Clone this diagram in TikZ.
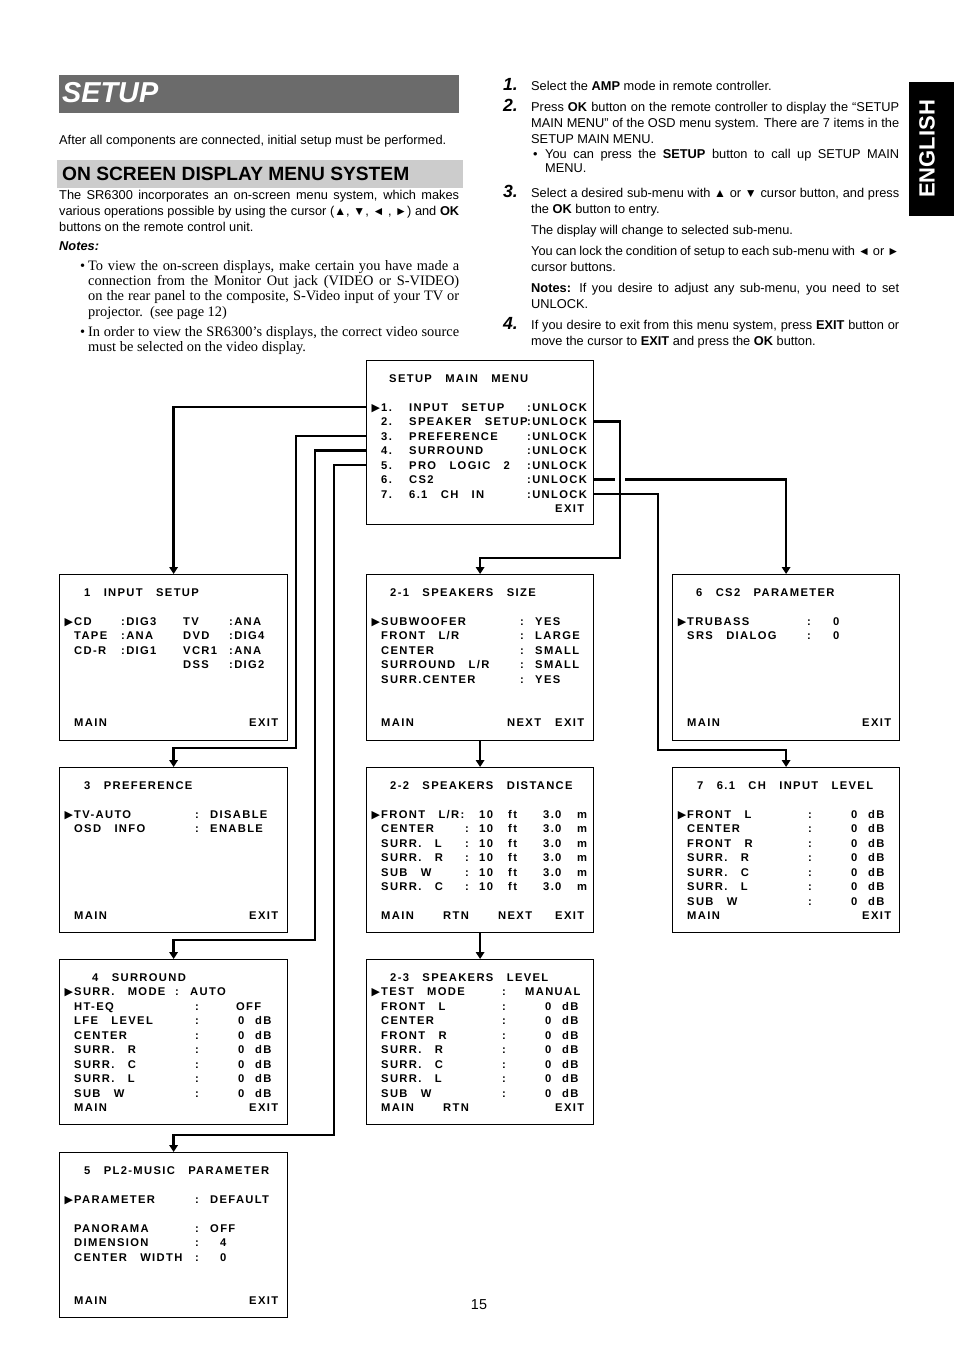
\documentclass[tikz,border=0pt]{standalone}
\usepackage{fontspec}
\setmainfont{Liberation Sans}
\newfontfamily\serif{Liberation Serif}
\newfontfamily\osdfont{Liberation Sans}[LetterSpace=12,WordSpace=3.0]
\newfontfamily\symf{DejaVu Sans}
\usetikzlibrary{arrows.meta}
\definecolor{titlegray}{gray}{0.42}
\definecolor{headgray}{gray}{0.8}
\newcommand\tb[2]{\leavevmode\rlap{\hspace*{#1pt}#2}}
\newcommand\sel{\leavevmode\llap{\symf\fontsize{11}{11}\selectfont ▶\hspace{1pt}}}
\newcommand\numlab[1]{\leavevmode\llap{\makebox[28pt][l]{\fontsize{17.6}{17.6}\selectfont\bfseries\itshape #1}}}
\newcommand\tri[1]{{\fontsize{12}{12}\selectfont #1}}
\tikzset{
  osdbox/.style={draw, line width=1.2pt, anchor=north west, inner sep=0pt, minimum width=228pt, minimum height=166pt},
  osdtxt/.style={anchor=base west, inner sep=0pt, font=\osdfont\bfseries\fontsize{11.2}{14.5}\selectfont},
  link/.style={line width=2.6pt, -{Triangle[length=7pt,width=8.5pt]}},
  bodytxt/.style={anchor=base west, inner sep=0pt, font=\fontsize{12.8}{16}\selectfont}
}
\begin{document}
\begin{tikzpicture}[x=1pt, y=-1pt]
\useasboundingbox (0,0) rectangle (954,1351);
% page heading
\fill[titlegray] (59,75) rectangle (459,113);
\node[anchor=base west, inner sep=0pt, text=white, font=\fontsize{28.8}{28.8}\selectfont\bfseries\itshape] (title) at (62,103) {SETUP};
\fill (909,82) rectangle (954,216);
\node[rotate=90, inner sep=0pt, text=white, font=\fontsize{22}{22}\selectfont\bfseries] (lang) at (927,149) {ENGLISH};
\node[bodytxt] (intro) at (59,145) {After all components are connected, initial setup must be performed.};
\fill[headgray] (57,160) rectangle (463,188);
\node[anchor=base west, inner sep=0pt, font=\fontsize{19.2}{19.2}\selectfont\bfseries] (osdhead) at (62,181) {ON SCREEN DISPLAY MENU SYSTEM};
\node[bodytxt] (lead) at (59,200) {\parbox[t]{400pt}{The SR6300 incorporates an on-screen menu system, which makes\linebreak various operations possible by using the cursor (\tri{▲}, \tri{▼}, \tri{◄} , \tri{►}) and \textbf{OK}\linebreak buttons on the remote control unit.}};
\node[bodytxt, font=\fontsize{12.8}{16}\selectfont\bfseries\itshape] (notes) at (59,250) {Notes:};
\node[anchor=base west, inner sep=0pt, font=\serif\fontsize{14.4}{15.4}\selectfont] (notelist) at (80,270) {\parbox[t]{379pt}{%
\hangindent=8pt\hangafter=1\makebox[8pt][l]{•}To view the on-screen displays, make certain you have made a\linebreak connection from the Monitor Out jack (VIDEO or S-VIDEO)\linebreak on the rear panel to the composite, S-Video input of your TV or\linebreak projector.\ \ (see page 12)\par
\vspace{4.6pt}\hangindent=8pt\hangafter=1\makebox[8pt][l]{•}In order to view the SR6300’s displays, the correct video source\linebreak must be selected on the video display.}};
% steps
\node[bodytxt] (steps) at (531,91) {\parbox[t]{368pt}{\setlength\parskip{5pt}%
\numlab{1.}Select the \textbf{AMP} mode in remote controller.\par
\numlab{2.}Press \textbf{OK} button on the remote controller to display the “SETUP\linebreak MAIN MENU” of the OSD menu system. There are 7 items in the\linebreak SETUP MAIN MENU.\par
\vspace{-4pt}{\baselineskip=14pt\hangindent=14pt\hangafter=1\makebox[14pt][l]{\hspace{2pt}•}You can press the \textbf{SETUP} button to call up SETUP MAIN\linebreak MENU.\par}
\vspace{4pt}\numlab{3.}Select a desired sub-menu with \tri{▲} or \tri{▼}\ cursor button, and press\linebreak the \textbf{OK} button to entry.\par
The display will change to selected sub-menu.\par
You can lock the condition of setup to each sub-menu with \tri{◄} or \tri{►}\linebreak cursor buttons.\par
\textbf{Notes:} If you desire to adjust any sub-menu, you need to set\linebreak UNLOCK.\par
\numlab{4.}If you desire to exit from this menu system, press \textbf{EXIT} button or\linebreak move the cursor to \textbf{EXIT} and press the \textbf{OK} button.}};
% osd screens
\node[osdbox, minimum width=227pt, minimum height=164pt] (main) at (366,360) {};
\node[osdtxt] (main-t) at (381,382) {\parbox[t]{210pt}{%
\tb{8}{SETUP MAIN MENU}\\
\mbox{}\\
\sel\tb{0}{1.}\tb{28}{INPUT SETUP}\tb{146}{:UNLOCK}\\
\tb{0}{2.}\tb{28}{SPEAKER SETUP}\tb{146}{:UNLOCK}\\
\tb{0}{3.}\tb{28}{PREFERENCE}\tb{146}{:UNLOCK}\\
\tb{0}{4.}\tb{28}{SURROUND}\tb{146}{:UNLOCK}\\
\tb{0}{5.}\tb{28}{PRO LOGIC 2}\tb{146}{:UNLOCK}\\
\tb{0}{6.}\tb{28}{CS2}\tb{146}{:UNLOCK}\\
\tb{0}{7.}\tb{28}{6.1 CH IN}\tb{146}{:UNLOCK}\\
\tb{174}{EXIT}}};
\node[osdbox] (inp) at (59,574) {};
\node[osdtxt] (inp-t) at (74,596) {\parbox[t]{210pt}{%
\tb{10}{1 INPUT SETUP}\\
\mbox{}\\
\sel\tb{0}{CD}\tb{47}{:DIG3}\tb{109}{TV}\tb{155}{:ANA}\\
\tb{0}{TAPE}\tb{47}{:ANA}\tb{109}{DVD}\tb{155}{:DIG4}\\
\tb{0}{CD-R}\tb{47}{:DIG1}\tb{109}{VCR1}\tb{155}{:ANA}\\
\tb{109}{DSS}\tb{155}{:DIG2}\\
\mbox{}\\ \mbox{}\\ \mbox{}\\
\tb{0}{MAIN}\tb{175}{EXIT}}};
\node[osdbox, minimum width=227pt] (spsize) at (366,574) {};
\node[osdtxt] (spsize-t) at (381,596) {\parbox[t]{210pt}{%
\tb{9}{2-1 SPEAKERS SIZE}\\
\mbox{}\\
\sel\tb{0}{SUBWOOFER}\tb{139}{:}\tb{154}{YES}\\
\tb{0}{FRONT L/R}\tb{139}{:}\tb{154}{LARGE}\\
\tb{0}{CENTER}\tb{139}{:}\tb{154}{SMALL}\\
\tb{0}{SURROUND L/R}\tb{139}{:}\tb{154}{SMALL}\\
\tb{0}{SURR.CENTER}\tb{139}{:}\tb{154}{YES}\\
\mbox{}\\ \mbox{}\\
\tb{0}{MAIN}\tb{126}{NEXT}\tb{174}{EXIT}}};
\node[osdbox, minimum width=227pt] (cstwo) at (672,574) {};
\node[osdtxt] (cstwo-t) at (687,596) {\parbox[t]{210pt}{%
\tb{9}{6 CS2 PARAMETER}\\
\mbox{}\\
\sel\tb{0}{TRUBASS}\tb{120}{:}\tb{146}{0}\\
\tb{0}{SRS DIALOG}\tb{120}{:}\tb{146}{0}\\
\mbox{}\\ \mbox{}\\ \mbox{}\\ \mbox{}\\ \mbox{}\\
\tb{0}{MAIN}\tb{175}{EXIT}}};
\node[osdbox, minimum height=165pt] (pref) at (59,767) {};
\node[osdtxt] (pref-t) at (74,789) {\parbox[t]{210pt}{%
\tb{10}{3 PREFERENCE}\\
\mbox{}\\
\sel\tb{0}{TV-AUTO}\tb{121}{:}\tb{136}{DISABLE}\\
\tb{0}{OSD INFO}\tb{121}{:}\tb{136}{ENABLE}\\
\mbox{}\\ \mbox{}\\ \mbox{}\\ \mbox{}\\ \mbox{}\\
\tb{0}{MAIN}\tb{175}{EXIT}}};
\node[osdbox, minimum width=227pt, minimum height=165pt] (spdist) at (366,767) {};
\node[osdtxt] (spdist-t) at (381,789) {\parbox[t]{210pt}{%
\tb{9}{2-2 SPEAKERS DISTANCE}\\
\mbox{}\\
\sel\tb{0}{FRONT L/R:}\tb{98}{10}\tb{127}{ft}\tb{162}{3.0}\tb{196}{m}\\
\tb{0}{CENTER}\tb{84}{:}\tb{98}{10}\tb{127}{ft}\tb{162}{3.0}\tb{196}{m}\\
\tb{0}{SURR. L}\tb{84}{:}\tb{98}{10}\tb{127}{ft}\tb{162}{3.0}\tb{196}{m}\\
\tb{0}{SURR. R}\tb{84}{:}\tb{98}{10}\tb{127}{ft}\tb{162}{3.0}\tb{196}{m}\\
\tb{0}{SUB W}\tb{84}{:}\tb{98}{10}\tb{127}{ft}\tb{162}{3.0}\tb{196}{m}\\
\tb{0}{SURR. C}\tb{84}{:}\tb{98}{10}\tb{127}{ft}\tb{162}{3.0}\tb{196}{m}\\
\mbox{}\\
\tb{0}{MAIN}\tb{62}{RTN}\tb{117}{NEXT}\tb{174}{EXIT}}};
\node[osdbox, minimum width=227pt, minimum height=165pt] (chlev) at (672,767) {};
\node[osdtxt] (chlev-t) at (687,789) {\parbox[t]{210pt}{%
\tb{10}{7 6.1 CH INPUT LEVEL}\\
\mbox{}\\
\sel\tb{0}{FRONT L}\tb{121}{:}\tb{164}{0}\tb{181}{dB}\\
\tb{0}{CENTER}\tb{121}{:}\tb{164}{0}\tb{181}{dB}\\
\tb{0}{FRONT R}\tb{121}{:}\tb{164}{0}\tb{181}{dB}\\
\tb{0}{SURR. R}\tb{121}{:}\tb{164}{0}\tb{181}{dB}\\
\tb{0}{SURR. C}\tb{121}{:}\tb{164}{0}\tb{181}{dB}\\
\tb{0}{SURR. L}\tb{121}{:}\tb{164}{0}\tb{181}{dB}\\
\tb{0}{SUB W}\tb{121}{:}\tb{164}{0}\tb{181}{dB}\\
\tb{0}{MAIN}\tb{175}{EXIT}}};
\node[osdbox, minimum height=165pt] (surr) at (59,959) {};
\node[osdtxt] (surr-t) at (74,981) {\parbox[t]{210pt}{%
\tb{18}{4 SURROUND}\\
\sel\tb{0}{SURR. MODE}\tb{101}{:}\tb{116}{AUTO}\\
\tb{0}{HT-EQ}\tb{121}{:}\tb{162}{OFF}\\
\tb{0}{LFE LEVEL}\tb{121}{:}\tb{164}{0}\tb{181}{dB}\\
\tb{0}{CENTER}\tb{121}{:}\tb{164}{0}\tb{181}{dB}\\
\tb{0}{SURR. R}\tb{121}{:}\tb{164}{0}\tb{181}{dB}\\
\tb{0}{SURR. C}\tb{121}{:}\tb{164}{0}\tb{181}{dB}\\
\tb{0}{SURR. L}\tb{121}{:}\tb{164}{0}\tb{181}{dB}\\
\tb{0}{SUB W}\tb{121}{:}\tb{164}{0}\tb{181}{dB}\\
\tb{0}{MAIN}\tb{175}{EXIT}}};
\node[osdbox, minimum width=227pt, minimum height=165pt] (splev) at (366,959) {};
\node[osdtxt] (splev-t) at (381,981) {\parbox[t]{210pt}{%
\tb{9}{2-3 SPEAKERS LEVEL}\\
\sel\tb{0}{TEST MODE}\tb{121}{:}\tb{144}{MANUAL}\\
\tb{0}{FRONT L}\tb{121}{:}\tb{164}{0}\tb{181}{dB}\\
\tb{0}{CENTER}\tb{121}{:}\tb{164}{0}\tb{181}{dB}\\
\tb{0}{FRONT R}\tb{121}{:}\tb{164}{0}\tb{181}{dB}\\
\tb{0}{SURR. R}\tb{121}{:}\tb{164}{0}\tb{181}{dB}\\
\tb{0}{SURR. C}\tb{121}{:}\tb{164}{0}\tb{181}{dB}\\
\tb{0}{SURR. L}\tb{121}{:}\tb{164}{0}\tb{181}{dB}\\
\tb{0}{SUB W}\tb{121}{:}\tb{164}{0}\tb{181}{dB}\\
\tb{0}{MAIN}\tb{62}{RTN}\tb{174}{EXIT}}};
\node[osdbox, minimum height=165pt] (plii) at (59,1152) {};
\node[osdtxt] (plii-t) at (74,1174) {\parbox[t]{210pt}{%
\tb{10}{5 PL2-MUSIC PARAMETER}\\
\mbox{}\\
\sel\tb{0}{PARAMETER}\tb{121}{:}\tb{136}{DEFAULT}\\
\mbox{}\\
\tb{0}{PANORAMA}\tb{121}{:}\tb{136}{OFF}\\
\tb{0}{DIMENSION}\tb{121}{:}\tb{146}{4}\\
\tb{0}{CENTER WIDTH}\tb{121}{:}\tb{146}{0}\\
\mbox{}\\ \mbox{}\\
\tb{0}{MAIN}\tb{175}{EXIT}}};
% menu rows
\coordinate (r1) at ([yshift=-47pt]main.north west);
\coordinate (r2) at ([yshift=-61.5pt]main.north east);
\coordinate (r3) at ([yshift=-76pt]main.north west);
\coordinate (r4) at ([yshift=-90.5pt]main.north west);
\coordinate (r5) at ([yshift=-105pt]main.north west);
\coordinate (r6) at ([yshift=-119.5pt]main.north east);
\coordinate (r7) at ([yshift=-134pt]main.north east);
% connectors
\draw[link] (r1) -| (inp.north);
\draw[link] (r3) -| (296,748) -| (pref.north);
\draw[link] (r4) -| (315,940) -| (surr.north);
\draw[link] (r5) -| (334,1135) -| (plii.north);
\draw[link] (r6) -| (cstwo.north);
\draw[link] (r7) -| (658,750) -| (chlev.north);
\draw[white, line width=10pt] (620,458) -- (620,487);
\draw[link] (r2) -| (620,558) -| (spsize.north);
\draw[link] (spsize.south) -- (spdist.north);
\draw[link] (spdist.south) -- (splev.north);
\node[inner sep=0pt, font=\fontsize{14.4}{14.4}\selectfont] (pageno) at (479,1305) {15};
\end{tikzpicture}
\end{document}
